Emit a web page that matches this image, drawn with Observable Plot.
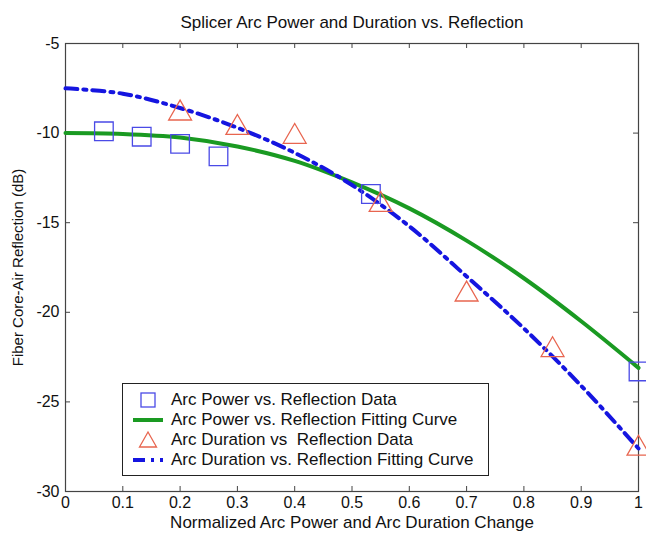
<!DOCTYPE html>
<html><head><meta charset="utf-8">
<script src="https://cdn.jsdelivr.net/npm/d3@7"></script>
<script src="https://cdn.jsdelivr.net/npm/@observablehq/plot@0.6"></script>
<style>
body{margin:0;background:#fff;font-family:"Liberation Sans",Arial,sans-serif}
#legend{position:absolute;left:122px;top:383px;width:367px;height:93px;border:1.5px solid #222;background:#fff;box-sizing:border-box}
.row{position:absolute;left:0;height:20px;font-size:17px;color:#111}
.row svg{position:absolute;left:10px;top:0}
.row span{position:absolute;left:48px;top:0;line-height:20px;white-space:pre}
</style>
</head><body><div id="chart" style="position:relative;width:646px;height:536px"></div>
<script>
const titleText = "Splicer Arc Power and Duration vs. Reflection";
const xLabel = "Normalized Arc Power and Arc Duration Change";
const yLabel = "Fiber Core-Air Reflection (dB)";

const powerX = [0.067, 0.133, 0.2, 0.267, 0.533, 1.0];
const powerY = [-9.9, -10.2, -10.6, -11.3, -13.4, -23.3];
const durationX = [0.2, 0.3, 0.4, 0.55, 0.7, 0.85, 1.0];
const durationY = [-8.9, -9.7, -10.2, -14.0, -19.0, -22.1, -27.6];
const fitX = [0, 0.1, 0.2, 0.3, 0.4, 0.5, 0.6, 0.7, 0.8, 0.9, 1.0];
const powerFitY = [-10.0, -10.05, -10.25, -10.75, -11.55, -12.75, -14.2, -16.0, -18.1, -20.5, -23.1];
const durationFitY = [-7.5, -7.8, -8.6, -9.7, -11.1, -12.9, -15.2, -18.0, -20.9, -24.1, -27.6];
const xTicks = [0, 0.1, 0.2, 0.3, 0.4, 0.5, 0.6, 0.7, 0.8, 0.9, 1];
const yTicks = [-30, -25, -20, -15, -10, -5];
const legendLabels = [
  "Arc Power vs. Reflection Data",
  "Arc Power vs. Reflection Fitting Curve",
  "Arc Duration vs  Reflection Data",
  "Arc Duration vs. Reflection Fitting Curve"
];

const colors = {square: "#4a4ae6", green: "#1a9a22", triangle: "#e8654f", blue: "#1515e0", frame: "#444"};

const W = 646, H = 536, mL = 65, mR = 8, mT = 43, mB = 45;
const innerW = W - mL - mR, innerH = H - mT - mB;

const powerData = powerX.map((x, i) => ({x, y: powerY[i]}));
const durationData = durationX.map((x, i) => ({x, y: durationY[i]}));
const powerFit = fitX.map((x, i) => ({x, y: powerFitY[i]}));
const durationFit = fitX.map((x, i) => ({x, y: durationFitY[i]}));

const chart = Plot.plot({
  width: W, height: H,
  marginLeft: mL, marginRight: mR, marginTop: mT, marginBottom: mB,
  style: {fontFamily: "'Liberation Sans', Arial, sans-serif", fontSize: "16px", color: "#111", background: "#fff"},
  x: {domain: [0, 1]},
  y: {domain: [-30, -5]},
  marks: [
    Plot.frame({stroke: colors.frame, strokeWidth: 1.2}),
    Plot.tickX(xTicks, {x: d => d, insetTop: innerH - 5, stroke: colors.frame}),
    Plot.tickX(xTicks, {x: d => d, insetBottom: innerH - 5, stroke: colors.frame}),
    Plot.tickY(yTicks, {y: d => d, insetRight: innerW - 5, stroke: colors.frame}),
    Plot.tickY(yTicks, {y: d => d, insetLeft: innerW - 5, stroke: colors.frame}),
    Plot.axisX(xTicks, {anchor: "bottom", tickSize: 0, tickPadding: 5, tickFormat: d => String(d), fontSize: 16,
      label: null}),
    Plot.axisY(yTicks, {anchor: "left", tickSize: 0, tickPadding: 6, tickFormat: d => String(d), fontSize: 16,
      label: null}),
    Plot.text([xLabel], {frameAnchor: "bottom", lineAnchor: "middle", dy: 31, fontSize: 17, fill: "#111"}),
    Plot.text([yLabel], {frameAnchor: "left", textAnchor: "middle", lineAnchor: "middle", dx: -47, rotate: -90, fontSize: 15, fill: "#111"}),
    Plot.line(powerFit, {x: "x", y: "y", stroke: colors.green, strokeWidth: 4, curve: "catmull-rom"}),
    Plot.line(durationFit, {x: "x", y: "y", stroke: colors.blue, strokeWidth: 4, curve: "catmull-rom",
      strokeDasharray: "12,6,3,6"}),
    Plot.dot(powerData, {x: "x", y: "y", symbol: "square", r: 10.5, stroke: colors.square, strokeWidth: 1.3, fill: "none"}),
    Plot.dot(durationData, {x: "x", y: "y", symbol: "triangle", r: 8.5, stroke: colors.triangle, strokeWidth: 1.3, fill: "none"}),
    Plot.text([titleText], {frameAnchor: "top", lineAnchor: "middle", dy: -21, fontSize: 17, fill: "#111"})
  ]
});
const container = document.getElementById("chart");
container.appendChild(chart);

// Legend overlay
const legend = document.createElement("div");
legend.id = "legend";
const symbols = [
  `<svg width="30" height="20"><rect x="8" y="3" width="14" height="14" fill="none" stroke="${colors.square}" stroke-width="1.3"/></svg>`,
  `<svg width="30" height="20"><line x1="0" y1="10" x2="30" y2="10" stroke="${colors.green}" stroke-width="4"/></svg>`,
  `<svg width="30" height="20"><path d="M15,2 L23.5,17 L6.5,17 Z" fill="none" stroke="${colors.triangle}" stroke-width="1.3"/></svg>`,
  `<svg width="30" height="20"><line x1="0" y1="10" x2="30" y2="10" stroke="${colors.blue}" stroke-width="4" stroke-dasharray="12,6,3,6"/></svg>`
];
legendLabels.forEach((lab, i) => {
  const row = document.createElement("div");
  row.className = "row";
  row.style.top = (6 + i * 20) + "px";
  row.style.width = "100%";
  row.innerHTML = symbols[i] + `<span>${lab}</span>`;
  legend.appendChild(row);
});
container.appendChild(legend);
</script>
</body></html>
